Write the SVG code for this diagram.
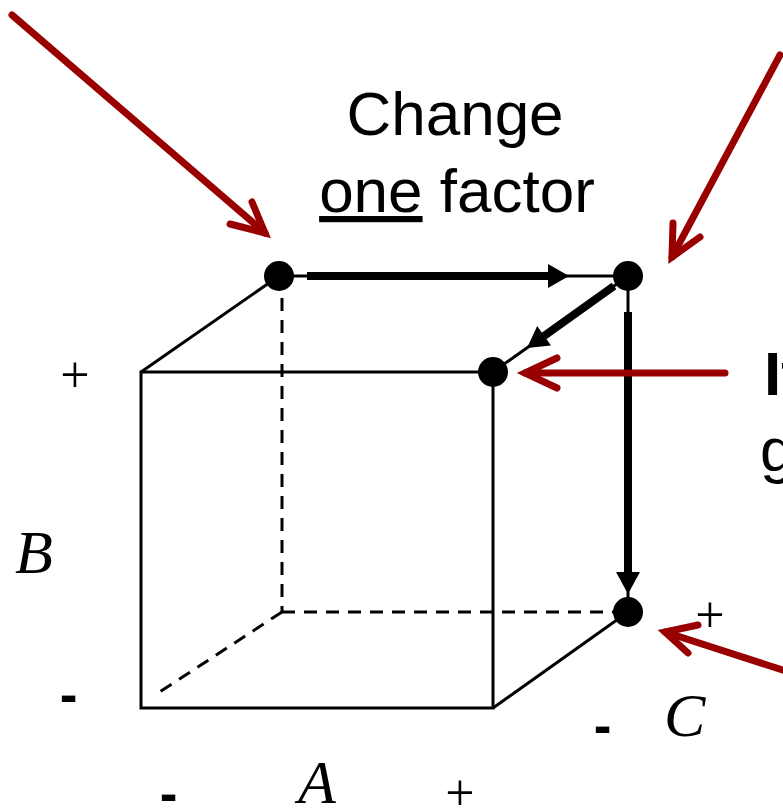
<svg xmlns="http://www.w3.org/2000/svg" width="783" height="808" viewBox="0 0 783 808">
<style>
.edge{stroke:#000;stroke-width:3;fill:none}
.dash{stroke:#000;stroke-width:3;fill:none;stroke-dasharray:13 9}
.thick{stroke:#000;stroke-width:8;fill:none}
.head{fill:#000}
.red{stroke:#990000;stroke-width:7;fill:none;stroke-linecap:round;stroke-linejoin:miter}
.node{fill:#000}
.sans{font-family:"Liberation Sans",Arial,sans-serif;fill:#000}
.ital{font-family:"Liberation Serif","Times New Roman",serif;font-style:italic;fill:#000}
.serif{font-family:"Liberation Serif","Times New Roman",serif;fill:#000}
</style>
<rect width="783" height="808" fill="#fff"/>
<g id="cube">
<rect x="141" y="372" width="352" height="336" class="edge"/>
<line x1="141" y1="372" x2="279" y2="276" class="edge"/>
<line x1="493" y1="708" x2="628" y2="612" class="edge"/>
<line x1="282" y1="276" x2="282" y2="612" class="dash"/>
<line x1="282" y1="612" x2="628" y2="612" class="dash"/>
<line x1="282" y1="612" x2="155" y2="695" class="dash"/>
</g>
<g id="connectors">
<line x1="279" y1="276" x2="628" y2="276" class="edge"/>
<line x1="493" y1="372" x2="628" y2="276" class="edge"/>
<line x1="628" y1="276" x2="628" y2="612" class="edge"/>
<line x1="307" y1="276" x2="550" y2="276" class="thick"/>
<polygon points="569,276 548,264 548,288" class="head"/>
<line x1="614" y1="286" x2="544" y2="336" class="thick"/>
<polygon points="527,348 551,345.6 537.2,326" class="head"/>
<line x1="628" y1="312" x2="628" y2="574" class="thick"/>
<polygon points="628,594 616,572 640,572" class="head"/>
<line x1="12" y1="15" x2="265" y2="233" class="red"/>
<polyline points="230,224 265,233 252,202" class="red"/>
<line x1="780" y1="55" x2="672" y2="257" class="red"/>
<polyline points="673,223 672,257 700,237" class="red"/>
<line x1="725" y1="373" x2="525" y2="373" class="red"/>
<polyline points="557,358 525,373 557,388" class="red"/>
<line x1="795" y1="674" x2="665" y2="632" class="red"/>
<polyline points="698,625 665,632 688,653" class="red"/>
</g>
<g id="n1"><circle cx="279" cy="276" r="15" class="node"/></g>
<g id="n2"><circle cx="628" cy="276" r="15" class="node"/></g>
<g id="n3"><circle cx="493" cy="372" r="15" class="node"/></g>
<g id="n4"><circle cx="628" cy="612" r="15" class="node"/></g>
<g id="labels">
<text x="455" y="135" font-size="62" text-anchor="middle" class="sans">Change</text>
<text x="457" y="212" font-size="62" text-anchor="middle" class="sans"><tspan text-decoration="underline">one</tspan> factor</text>
<text x="764" y="395" font-size="62" font-weight="bold" class="sans">It</text>
<text x="760" y="471" font-size="62" class="sans">g</text>
<text x="15" y="573" font-size="62" class="ital">B</text>
<text x="298" y="803" font-size="62" class="ital">A</text>
<text x="664" y="736" font-size="62" class="ital">C</text>
<text x="75" y="391.5" font-size="52" text-anchor="middle" class="serif">+</text>
<text x="460" y="810" font-size="52" text-anchor="middle" class="serif">+</text>
<text x="710" y="631.5" font-size="52" text-anchor="middle" class="serif">+</text>
<text x="68.5" y="713" font-size="53" font-weight="bold" text-anchor="middle" class="sans">-</text>
<text x="168.5" y="811.5" font-size="53" font-weight="bold" text-anchor="middle" class="sans">-</text>
<text x="602.5" y="744" font-size="53" font-weight="bold" text-anchor="middle" class="sans">-</text>
</g>
</svg>
